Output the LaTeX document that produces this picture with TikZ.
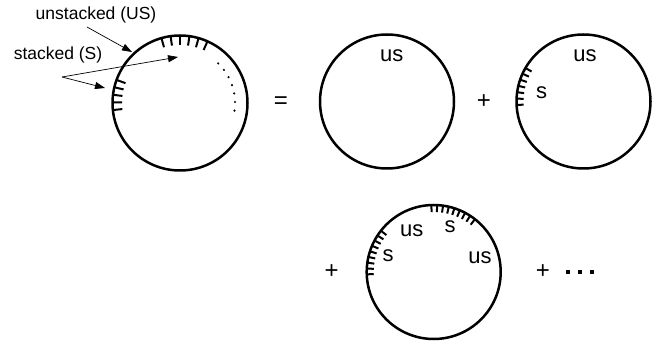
\documentclass[tikz,border=0pt]{standalone}
\usepackage{fontspec}
\setmainfont{Liberation Sans}
\usetikzlibrary{arrows.meta}
\begin{document}
\begin{tikzpicture}[x=1pt,y=1pt,
  ring/.style={circle, draw, line width=2.5pt, minimum size=#1, inner sep=0pt},
  ring/.default=134pt,
  tck/.style={line width=2pt},
  lbl/.style={font=\fontsize{17.5}{20}\selectfont, inner sep=0pt},
  cl/.style={font=\fontsize{22}{24}\selectfont, inner sep=0pt},
  op/.style={font=\fontsize{24}{26}\selectfont, inner sep=0pt},
  arr/.style={line width=0.7pt, -{Triangle[length=10pt,width=7pt]}},
  dotm/.style={fill, circle, inner sep=0pt, minimum size=2.4pt}]
\useasboundingbox (0,0) rectangle (659,343);

% circle 1
\node[ring=135pt] (c1) at (180,240) {};
\foreach \a in {106,98,...,65}
  \draw[tck] ([shift={(\a:67.5)}]c1.center) -- ([shift={(\a:58)}]c1.center);
\foreach \a in {160,166.5,...,187}
  \draw[tck] ([shift={(\a:67.5)}]c1.center) -- ([shift={(\a:58)}]c1.center);
\foreach \a in {46,37,...,-8}
  \node[dotm] at ([shift={(\a:55)}]c1.center) {};

\node[lbl] (us) at (96,328) {unstacked (US)};
\node[lbl] (st) at (58,288) {stacked (S)};
\coordinate (ut) at (87,316);
\coordinate (uh) at (132,291);
\coordinate (sT) at (62,266);
\coordinate (sh1) at (178,286);
\coordinate (sh2) at (105,255);
\draw[arr] (ut) -- (uh);
\draw[arr] (sT) -- (sh1);
\draw[arr] (sT) -- (sh2);

\node[op] (eq) at (281,240) {=};

% circle 2
\node[ring] (c2) at (387,241.5) {};
\node[cl] (c2us) at (391.7,287) {us};

\node[op] (p1) at (484,241) {+};

% circle 3
\node[ring] (c3) at (583.5,241.5) {};
\foreach \a in {150,155.5,...,184}
  \draw[tck] ([shift={(\a:67)}]c3.center) -- ([shift={(\a:60)}]c3.center);
\node[cl] (c3us) at (585,287) {us};
\node[cl] (c3s) at (541.7,250) {s};

% row 2
\node[op] (p2) at (331.7,71) {+};
\node[ring] (c4) at (433.7,71) {};
\foreach \a in {142,147,...,183}
  \draw[tck] ([shift={(\a:67)}]c4.center) -- ([shift={(\a:60)}]c4.center);
\foreach \a in {92,87,...,51}
  \draw[tck] ([shift={(\a:67)}]c4.center) -- ([shift={(\a:60)}]c4.center);
\node[cl] (c4us1) at (411.7,112) {us};
\node[cl] (c4s1) at (450,116) {s};
\node[cl] (c4s2) at (388,87) {s};
\node[cl] (c4us2) at (480,85) {us};

\node[op] (p3) at (543,71) {+};
\node[fill, minimum size=3.8pt, inner sep=0pt] (d1) at (567.7,71) {};
\node[fill, minimum size=3.8pt, inner sep=0pt] (d2) at (580,71) {};
\node[fill, minimum size=3.8pt, inner sep=0pt] (d3) at (592.3,71) {};
\end{tikzpicture}
\end{document}
